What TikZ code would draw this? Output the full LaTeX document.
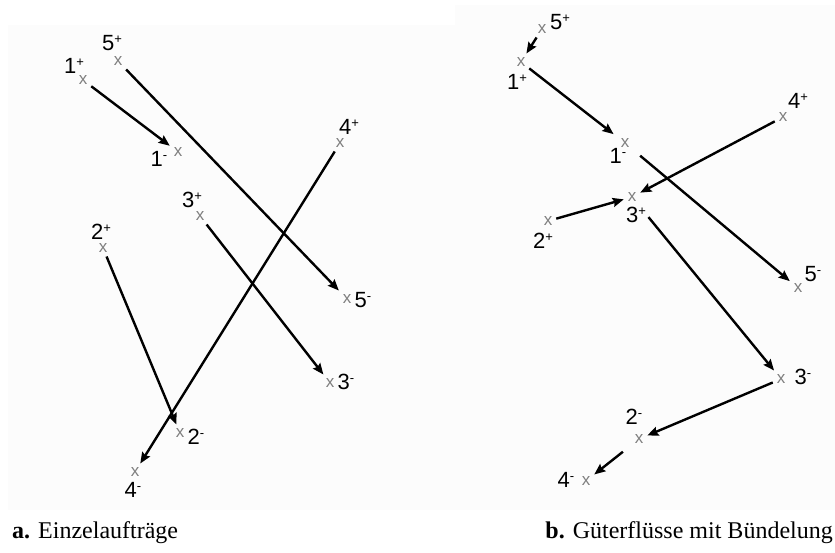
\documentclass[tikz,border=0pt]{standalone}
\usepackage{fontspec}
\setmainfont{Liberation Serif}
\setsansfont{Liberation Sans}
\usetikzlibrary{arrows.meta, positioning}

\newcommand{\ort}[2]{#1\raisebox{7pt}{\fontsize{13}{13}\selectfont #2}}

\begin{document}
\begin{tikzpicture}[
    x=1pt, y=-1pt,
    spot/.style={inner sep=0pt, outer sep=4pt, font=\sffamily\fontsize{17}{17}\selectfont, text=black!50},
    lab/.style={inner sep=0pt, font=\sffamily\fontsize{22}{22}\selectfont},
    flow/.style={-{Stealth[length=11pt, width=9pt, inset=1.5pt]}, line width=2.4pt},
    caption/.style={inner sep=0pt, font=\fontsize{24}{24}\selectfont},
    panel/.style={fill=black!1, draw=none}
]
\useasboundingbox (0,0) rectangle (835,552);

% Backgrounds
\fill[panel] (8,25) rectangle (455,510);
\fill[panel] (455,5) rectangle (835,510);

% Panel a: Einzelauftraege
\node[spot] (a5p) at (118,61) {x};
\node[spot] (a1p) at (83,80) {x};
\node[spot] (a1m) at (178,152) {x};
\node[spot] (a4p) at (340,143) {x};
\node[spot] (a3p) at (200,216) {x};
\node[spot] (a2p) at (103,248) {x};
\node[spot] (a5m) at (347,299) {x};
\node[spot] (a3m) at (330,383) {x};
\node[spot] (a2m) at (180,433) {x};
\node[spot] (a4m) at (135,472) {x};

\node[lab] (la5p) at ([shift={(-6,-18)}]a5p) {\ort{5}{+}};
\node[lab] (la1p) at ([shift={(-9,-14)}]a1p) {\ort{1}{+}};
\node[lab] (la1m) at ([shift={(-19,7)}]a1m) {\ort{1}{-}};
\node[lab] (la4p) at ([shift={(9,-16)}]a4p) {\ort{4}{+}};
\node[lab] (la3p) at ([shift={(-8,-16)}]a3p) {\ort{3}{+}};
\node[lab] (la2p) at ([shift={(-2,-16)}]a2p) {\ort{2}{+}};
\node[lab] (la5m) at ([shift={(16,1)}]a5m) {\ort{5}{-}};
\node[lab] (la3m) at ([shift={(16,-1)}]a3m) {\ort{3}{-}};
\node[lab] (la2m) at ([shift={(16,4)}]a2m) {\ort{2}{-}};
\node[lab] (la4m) at ([shift={(-2,18)}]a4m) {\ort{4}{-}};

\draw[flow] (a1p) -- (a1m);
\draw[flow] (a5p) -- (a5m);
\draw[flow] (a4p) -- (a4m);
\draw[flow] (a3p) -- (a3m);
\draw[flow] (a2p) -- (a2m);

% Panel b: Gueterfluesse mit Buendelung
\node[spot] (b5p) at (542,29) {x};
\node[spot] (b1p) at (521,62) {x};
\node[spot] (b1m) at (625,143) {x};
\node[spot] (b4p) at (783,117) {x};
\node[spot] (b3p) at (632,197) {x};
\node[spot] (b2p) at (548,221) {x};
\node[spot] (b5m) at (798,288) {x};
\node[spot] (b3m) at (781,379) {x};
\node[spot] (b2m) at (639,439) {x};
\node[spot] (b4m) at (586,481) {x};

\node[lab] (lb5p) at ([shift={(18,-7)}]b5p) {\ort{5}{+}};
\node[lab] (lb1p) at ([shift={(-4,20)}]b1p) {\ort{1}{+}};
\node[lab] (lb1m) at ([shift={(-7,13)}]b1m) {\ort{1}{-}};
\node[lab] (lb4p) at ([shift={(15,-16)}]b4p) {\ort{4}{+}};
\node[lab] (lb3p) at ([shift={(4,18)}]b3p) {\ort{3}{+}};
\node[lab] (lb2p) at ([shift={(-5,20)}]b2p) {\ort{2}{+}};
\node[lab] (lb5m) at ([shift={(15,-14)}]b5m) {\ort{5}{-}};
\node[lab] (lb3m) at ([shift={(22,-2)}]b3m) {\ort{3}{-}};
\node[lab] (lb2m) at ([shift={(-5,-22)}]b2m) {\ort{2}{-}};
\node[lab] (lb4m) at ([shift={(-20,-1)}]b4m) {\ort{4}{-}};

\draw[flow] (b5p) -- (b1p);
\draw[flow, shorten >=4pt] (b1p) -- (b1m);
\draw[flow] (b4p) -- (b3p);
\draw[flow] (b2p) -- (b3p);
\draw[flow, shorten <=9pt] (b1m) -- (b5m);
\draw[flow, shorten <=15pt] (b3p) -- (b3m);
\draw[flow] (b3m) -- (b2m);
\draw[flow, shorten <=10pt] (b2m) -- (b4m);

% Captions
\node[caption, anchor=west] (capa) at (12,533) {\textbf{a.} Einzelaufträge};
\node[caption, anchor=east] (capb) at (833,533) {\textbf{b.} Güterflüsse mit Bündelung};

\end{tikzpicture}
\end{document}
